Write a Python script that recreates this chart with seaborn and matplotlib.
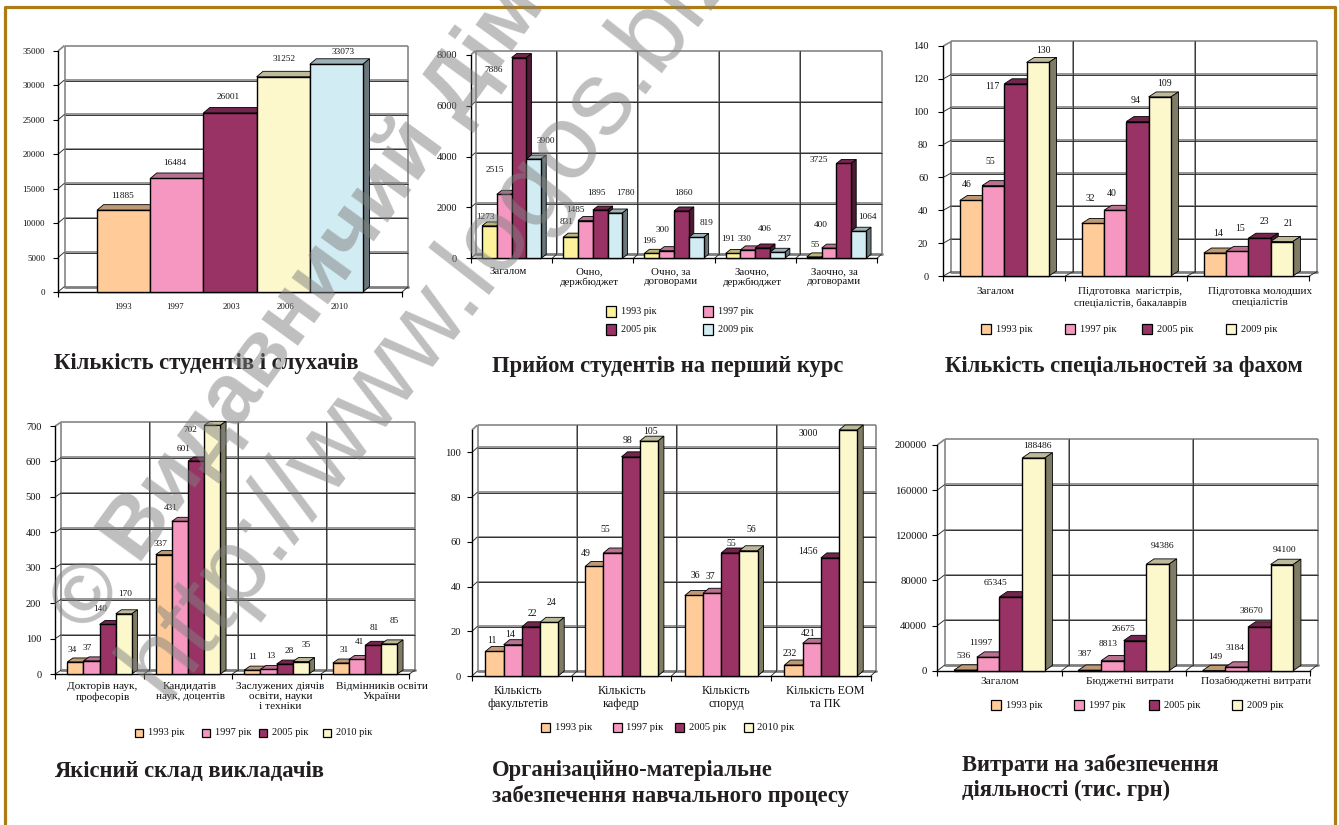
import matplotlib

matplotlib.use("Agg")
import matplotlib.pyplot as plt
import numpy as np
import pandas as pd
import seaborn as sns
from matplotlib.colors import to_rgb
from matplotlib.patches import Polygon, Rectangle

W, H = 1339, 825

# data
student_years = ["1993", "1997", "2003", "2006", "2010"]
student_counts = [11885, 16484, 26001, 31252, 33073]

admission_groups = ["Загалом", "Очно,\nдержбюджет", "Очно, за\nдоговорами", "Заочно,\nдержбюджет", "Заочно, за\nдоговорами"]
admission_years = ["1993 рік", "1997 рік", "2005 рік", "2009 рік"]
admission_values = [
    [1273, 2515, 7886, 3900],
    [831, 1485, 1895, 1780],
    [196, 300, 1860, 819],
    [191, 330, 406, 237],
    [55, 400, 3725, 1064],
]

speciality_groups = ["Загалом", "Підготовка  магістрів,\nспеціалістів, бакалаврів", "Підготовка молодших\nспеціалістів"]
speciality_years = ["1993 рік", "1997 рік", "2005 рік", "2009 рік"]
speciality_values = [
    [46, 55, 117, 130],
    [32, 40, 94, 109],
    [14, 15, 23, 21],
]

staff_groups = ["Докторів наук,\nпрофесорів", "Кандидатів\nнаук, доцентів", "Заслужених діячів\nосвіти, науки\nі техніки", "Відмінників освіти\nУкраїни"]
staff_years = ["1993 рік", "1997 рік", "2005 рік", "2010 рік"]
staff_values = [
    [34, 37, 140, 170],
    [337, 431, 601, 702],
    [11, 13, 28, 35],
    [31, 41, 81, 85],
]

facility_groups = ["Кількість\nфакультетів", "Кількість\nкафедр", "Кількість\nспоруд", "Кількість ЕОМ\nта ПК"]
facility_years = ["1993 рік", "1997 рік", "2005 рік", "2010 рік"]
# computers are drawn on a squeezed scale in the original, so bars != labels there
facility_heights = [
    [11, 14, 22, 24],
    [49, 55, 98, 105],
    [36, 37, 55, 56],
    [4.9, 14.6, 52.8, 110],
]
facility_labels = [
    [11, 14, 22, 24],
    [49, 55, 98, 105],
    [36, 37, 55, 56],
    [232, 421, 1456, 3000],
]

spending_groups = ["Загалом", "Бюджетні витрати", "Позабюджетні витрати"]
spending_years = ["1993 рік", "1997 рік", "2005 рік", "2009 рік"]
spending_values = [
    [536, 11997, 65345, 188486],
    [387, 8813, 26675, 94386],
    [149, 3184, 38670, 94100],
]

# colours
PEACH = "#FFCC99"
PINK = "#F597C1"
MAROON = "#993366"
CREAM = "#FDF8CC"
ICE = "#D2ECF3"
YELLOW = "#FBF29B"
BORDER = "#AE7C14"
TITLE_INK = "#231F20"

# label nudges in pixels from the top of each bar
student_nudge = [(-1, 14), (-2, 15), (-2, 16), (1, 18), (7, 12)]
admission_nudge = [
    (-4, 9), (-9, 24), (-25, -12), (12, 18),
    (-4, 15), (-10, 11), (-4, 17), (10, 20),
    (-3, 12), (-4, 21), (2, 18), (10, 14),
    (-5, 14), (-3, 11), (2, 19), (7, 13),
    (1, 12), (-8, 23), (-25, 3), (9, 14),
]
speciality_nudge = [
    (-4, 16), (-3, 24), (-23, -3), (6, 12),
    (-3, 25), (-3, 17), (-2, 21), (5, 13),
    (3, 20), (3, 23), (5, 17), (7, 18),
]
staff_nudge = [
    (-3, 12), (-4, 13), (-7, 15), (1, 20),
    (-3, 11), (-9, 13), (-13, 12), (-22, -5),
    (0, 13), (2, 13), (5, 13), (5, 17),
    (3, 13), (2, 17), (1, 17), (5, 23),
]
facility_nudge = [
    (-3, 11), (-3, 10), (1, 13), (2, 20),
    (-9, 13), (-7, 23), (-3, 16), (2, 10),
    (1, 20), (-2, 17), (1, 10), (3, 21),
    (-4, 12), (-4, 10), (-22, 6), (-40, -3),
]
spending_nudge = [
    (-2, 14), (-7, 14), (-15, 14), (4, 12),
    (-5, 16), (-4, 17), (-12, 12), (5, 18),
    (1, 14), (-2, 19), (-8, 16), (3, 15),
]


def long_frame(groups, years, rows):
    records = []
    for group, row in zip(groups, rows):
        for year, value in zip(years, row):
            records.append({"group": group, "year": year, "value": value})
    return pd.DataFrame(records)


def draw_panel(frame, box, yticks, ymax, palette, labels, nudges, fonts, depth, wall,
               shifts, xlim=None, bar_width=0.73, cat_pad=6, tick_gap=9, linespacing=1.1,
               edge_ticks=None):
    left, right, y0, ytop = box
    ax = fig.add_axes([left / W, 1 - y0 / H, (right - left) / W, (y0 - ytop) / H])
    ax.patch.set_alpha(0)
    sns.barplot(data=frame, x="group", y="value", hue="year", palette=palette, width=bar_width,
                gap=0, saturation=1, legend=False, edgecolor="black", linewidth=1.0,
                errorbar=None, ax=ax)
    n_groups = frame["group"].nunique()
    if xlim is None:
        xlim = (-0.5, n_groups - 0.5)
    ax.set_xlim(*xlim)
    ax.set_ylim(0, ymax)
    ax.set_xlabel("")
    ax.set_ylabel("")

    sx = (xlim[1] - xlim[0]) / (right - left)
    sy = ymax / (y0 - ytop)
    wall_dx, wall_dy = wall[0] * sx, wall[1] * sy
    bar_dx, bar_dy = depth[0] * sx, depth[1] * sy

    # back wall and floor
    gray = dict(color="#858585", lw=1.2, clip_on=False, zorder=1, solid_capstyle="butt")
    dark = dict(color="#2a2a2a", lw=0.65, clip_on=False, zorder=1.2, solid_capstyle="butt")
    back_l, back_r = xlim[0] + wall_dx, xlim[1] + wall_dx
    for tick in yticks:
        if tick == 0 or tick == ymax:
            continue
        ax.plot([back_l, back_r], [tick + wall_dy] * 2, **gray)
        ax.plot([back_l, back_r], [tick + wall_dy - 0.6 * sy] * 2, **dark)
        ax.plot([xlim[0], back_l], [tick, tick + wall_dy], **dark)
    ax.plot([back_l, back_r], [wall_dy] * 2, color="#7f7f7f", lw=2.0, clip_on=False, zorder=1)
    ax.plot([back_l, back_l], [wall_dy, ymax + wall_dy], **gray)
    ax.plot([back_r, back_r], [wall_dy, ymax + wall_dy], **gray)
    ax.plot([back_l, back_r], [ymax + wall_dy] * 2, **gray)
    ax.plot([xlim[0], back_l], [ymax, ymax + wall_dy], **gray)

    if edge_ticks is None:
        edge_ticks = np.arange(n_groups + 1) - 0.5
    for edge in edge_ticks:
        ax.plot([edge, edge + wall_dx], [0, wall_dy], **dark)
        if xlim[0] < edge < xlim[1]:
            ax.plot([edge + wall_dx] * 2, [wall_dy, ymax + wall_dy], **gray)
            ax.plot([edge + wall_dx - 0.5 * sx] * 2, [wall_dy, ymax + wall_dy], color="#2a2a2a", lw=0.6,
                    clip_on=False, zorder=1.2)

    # bars with a fake 3d top and side, left to right so neighbours overlap
    bars = sorted(ax.patches, key=lambda p: p.get_x())
    for i, bar in enumerate(bars):
        x0, x1 = bar.get_x(), bar.get_x() + bar.get_width()
        top = bar.get_height()
        rgb = np.array(to_rgb(bar.get_facecolor()))
        base = 5 + i * 0.1
        bar.set_zorder(base + 0.02)
        bar.set_clip_on(False)
        ax.add_patch(Polygon([(x0, top), (x1, top), (x1 + bar_dx, top + bar_dy), (x0 + bar_dx, top + bar_dy)],
                             facecolor=rgb * 0.75, edgecolor="black", lw=0.6, zorder=base, clip_on=False))
        ax.add_patch(Polygon([(x1, 0), (x1, top), (x1 + bar_dx, top + bar_dy), (x1 + bar_dx, bar_dy)],
                             facecolor=rgb * 0.5, edgecolor="black", lw=0.6, zorder=base + 0.01, clip_on=False))
        ax.annotate(str(labels[i]), xy=((x0 + x1) / 2, top), xytext=nudges[i], textcoords="offset pixels",
                    ha="center", va="center", fontsize=fonts["value"], color="#111111", zorder=20,
                    annotation_clip=False)

    # axes furniture
    sns.despine(ax=ax)
    for side in ("left", "bottom"):
        ax.spines[side].set_color("black")
        ax.spines[side].set_linewidth(1.0)
        ax.spines[side].set_zorder(4)
    ax.set_yticks(yticks)
    ax.set_yticklabels([str(t) for t in yticks])
    ax.tick_params(axis="y", length=3.6, width=0.8, color="black", pad=tick_gap * 0.72,
                   labelsize=fonts["tick"], labelcolor="#111111", left=True)
    group_px = (right - left) / (xlim[1] - xlim[0])
    names = list(dict.fromkeys(frame["group"]))
    ax.set_xticks([k + shifts[k] / group_px for k in range(n_groups)])
    ax.set_xticklabels(names, linespacing=linespacing)
    ax.set_xticks(list(edge_ticks), minor=True)
    ax.tick_params(axis="x", which="major", length=0, pad=cat_pad * 0.72, labelsize=fonts["cat"],
                   labelcolor="#111111", bottom=True)
    ax.tick_params(axis="x", which="minor", length=3.6, width=0.8, color="black", bottom=True)
    return ax


def legend_row(entries, y, size, text_gap, fontsize):
    for x, colour, text in entries:
        fig.add_artist(Rectangle((x / W, 1 - (y + size / 2) / H), size / W, size / H, transform=fig.transFigure,
                                 facecolor=colour, edgecolor="black", lw=0.9))
        fig.text((x + text_gap) / W, 1 - y / H, text, ha="left", va="center", fontsize=fontsize, color="#111111")


def title(x, y, text):
    fig.text(x / W, 1 - y / H, text, ha="left", va="center", fontsize=16.3, fontweight="bold",
             color=TITLE_INK, linespacing=1.2)


sns.set_theme(style="white")
plt.rcParams["font.family"] = ["Liberation Serif", "DejaVu Serif"]
fig = plt.figure(figsize=(W / 100, H / 100), dpi=100, facecolor="white")

# page border, open at the bottom
for coords in ([(4.8, H), (4.8, 7), (1334.5, 7), (1334.5, H)],):
    xs, ys = zip(*coords)
    fig.add_artist(plt.Line2D(np.array(xs) / W, 1 - np.array(ys) / H, color=BORDER, lw=2.3, zorder=0))

# 1 students
draw_panel(pd.DataFrame({"group": student_years, "year": student_years, "value": student_counts}),
           (58, 402, 292, 51), [0, 5000, 10000, 15000, 20000, 25000, 30000, 35000], 35000,
           [PEACH, PINK, MAROON, CREAM, ICE], student_counts, student_nudge,
           dict(value=6.7, tick=6.5, cat=6.3), (6.5, 5.5), (6.5, 5.5), [-1, -2, 1, 2, 3],
           xlim=(-1.233, 5.233), bar_width=1, cat_pad=11, tick_gap=8, edge_ticks=[-1.233, 5.233])

# 2 admissions
draw_panel(long_frame(admission_groups, admission_years, admission_values),
           (471, 877, 258.3, 54.7), [0, 2000, 4000, 6000, 8000], 8000,
           [YELLOW, PINK, MAROON, ICE], sum(admission_values, []), admission_nudge,
           dict(value=6.7, tick=7.5, cat=7.85), (5, 4), (4.5, 4), [-3, -3.5, -3, -3, -2],
           cat_pad=9)
legend_row([(605.7, YELLOW, admission_years[0]), (702.7, PINK, admission_years[1])], 311.7, 10.5, 15, 7.3)
legend_row([(605.7, MAROON, admission_years[2]), (702.7, ICE, admission_years[3])], 329.7, 10.5, 15, 7.3)

# 3 specialities
draw_panel(long_frame(speciality_groups, speciality_years, speciality_values),
           (943.3, 1309.3, 276, 46), [0, 20, 40, 60, 80, 100, 120, 140], 140,
           [PEACH, PINK, MAROON, CREAM], sum(speciality_values, []), speciality_nudge,
           dict(value=7.0, tick=7.4, cat=8.0), (7.7, 5), (8, 4.5), [-9, 3.7, 12],
           cat_pad=11.5, linespacing=1.25, tick_gap=10)
legend_row(list(zip((981.3, 1065.3, 1141.7, 1225.7), (PEACH, PINK, MAROON, CREAM), speciality_years)), 329, 10, 15, 7.5)

# 4 staff
draw_panel(long_frame(staff_groups, staff_years, staff_values),
           (55.3, 409.3, 674, 426), [0, 100, 200, 300, 400, 500, 600, 700], 700,
           [PEACH, PINK, MAROON, CREAM], sum(staff_values, []), staff_nudge,
           dict(value=6.7, tick=7.5, cat=8.1), (5.7, 4), (6, 4), [3, 2, 4, 17],
           cat_pad=8, linespacing=1.15)
legend_row(list(zip((135.3, 201.7, 259.3, 322.7), (PEACH, PINK, MAROON, CREAM), staff_years)), 732.7, 8, 13, 7.5)

# 5 facilities
draw_panel(long_frame(facility_groups, facility_years, facility_heights),
           (472, 870.7, 676, 430), [0, 20, 40, 60, 80, 100], 110,
           [PEACH, PINK, MAROON, CREAM], sum(facility_labels, []), facility_nudge,
           dict(value=7.0, tick=7.6, cat=8.7), (6, 5), (5.5, 5), [-3.5, 0, 4.7, 4.4],
           cat_pad=8.5, linespacing=1.2, tick_gap=6)
legend_row(list(zip((541.3, 612.7, 675.3, 743.7), (PEACH, PINK, MAROON, CREAM), facility_years)), 727.3, 9, 13.7, 7.7)

# 6 spending
draw_panel(long_frame(spending_groups, spending_years, spending_values),
           (937.3, 1310, 670.7, 445), [0, 40000, 80000, 120000, 160000, 200000], 200000,
           [PEACH, PINK, MAROON, CREAM], sum(spending_values, []), spending_nudge,
           dict(value=6.8, tick=7.8, cat=8.2), (7.7, 5.3), (7.5, 5.7), [0, 6, 8],
           cat_pad=6, tick_gap=5)
legend_row(list(zip((991.3, 1074, 1149.3, 1232), (PEACH, PINK, MAROON, CREAM), spending_years)), 705.3, 10, 15, 7.5)

title(54, 364, "Кількість студентів і слухачів")
title(492.3, 366.7, "Прийом студентів на перший курс")
title(945, 366.7, "Кількість спеціальностей за фахом")
title(54, 771.7, "Якісний склад викладачів")
title(491.7, 783.5, "Організаційно-матеріальне\nзабезпечення навчального процесу")
title(961.7, 777.5, "Витрати на забезпечення\nдіяльності (тис. грн)")

# watermark across the whole page
fig.text(88 / W, 1 - 635 / H, "© Видавничий Дім", rotation=54, rotation_mode="anchor", ha="left", va="baseline",
         fontsize=61, fontweight="bold", family="Liberation Sans", color="#7f7f7f", alpha=0.5, zorder=30)
fig.text(165 / W, 1 - 700 / H, "http://www.logos.biz", rotation=52, rotation_mode="anchor", ha="left",
         va="baseline", fontsize=76, family="Liberation Sans", color="#7f7f7f", alpha=0.5, zorder=30)

fig.savefig("out.png", dpi=100)
